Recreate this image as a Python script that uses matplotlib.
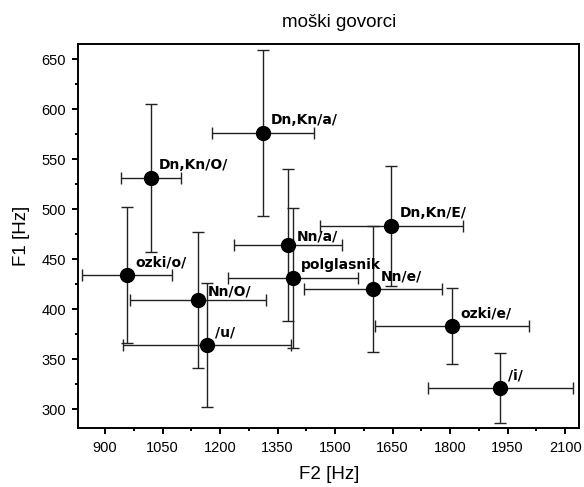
import matplotlib
matplotlib.use("Agg")
import matplotlib.pyplot as plt
from matplotlib.ticker import MultipleLocator


labels = ["Dn,Kn/O/", "Dn,Kn/a/", "Nn/a/", "polglasnik", "Dn,Kn/E/",
          "Nn/e/", "ozki/e/", "/i/", "ozki/o/", "Nn/O/", "/u/"]
f2 = [1020, 1311, 1376, 1390, 1647, 1599, 1805, 1931, 957, 1142, 1167]
f1 = [531, 576, 464, 431, 483, 420, 383, 321, 434, 409, 364]
f2_err = [78, 133, 141, 169, 187, 180, 201, 190, 117, 177, 219]
f1_err = [74, 83, 76, 70, 60, 63, 38, 35, 68, 68, 62]

# label offsets in pixels (a couple sit lower than the rest)
label_offsets = {"Nn/a/": (9, 5), "Nn/O/": (10, 5)}

plt.rcParams["font.family"] = ["Liberation Sans", "DejaVu Sans"]

fig = plt.figure(figsize=(5.84, 4.87), dpi=100)
ax = fig.add_axes([0.134, 0.121, 0.858, 0.789])

ax.errorbar(f2, f1, xerr=f2_err, yerr=f1_err, fmt="o", color="black",
            ecolor="#222222", elinewidth=1.0, capsize=4, capthick=1.0,
            markersize=10, zorder=3)

for name, x, y in zip(labels, f2, f1):
    dx, dy = label_offsets.get(name, (8, 9))
    ax.annotate(name, (x, y), xytext=(dx, dy), textcoords="offset pixels",
                fontsize=10, fontweight="bold", family="DejaVu Sans",
                ha="left", va="baseline")

ax.set_xlim(830, 2137)
ax.set_ylim(281, 665.4)
ax.xaxis.set_major_locator(MultipleLocator(150))
ax.xaxis.set_minor_locator(MultipleLocator(75))
ax.yaxis.set_major_locator(MultipleLocator(50))
ax.yaxis.set_minor_locator(MultipleLocator(25))
ax.tick_params(which="major", direction="out", length=4, width=1.4,
               labelsize=10.5, pad=5)
ax.tick_params(which="minor", direction="out", length=2.3, width=1.4)
for spine in ax.spines.values():
    spine.set_linewidth(1.4)

ax.set_title("moški govorci", fontsize=13.5, x=0.52, pad=12)
ax.set_xlabel("F2 [Hz]", fontsize=13.5, labelpad=8)
ax.set_ylabel("F1 [Hz]", fontsize=13.5, labelpad=8)

fig.savefig("out.png", dpi=100)
